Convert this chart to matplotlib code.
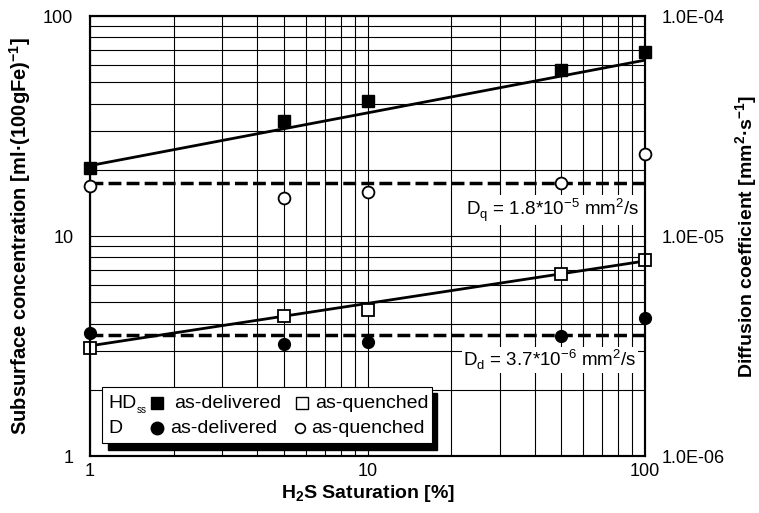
# -*- coding: utf-8 -*-
import numpy as np
import matplotlib
matplotlib.use('Agg')
import matplotlib.pyplot as plt
from matplotlib.patches import Rectangle
from matplotlib.ticker import FixedLocator, NullFormatter

plt.rcParams['font.family'] = ['Liberation Sans', 'DejaVu Sans']
plt.rcParams['mathtext.fontset'] = 'custom'
plt.rcParams['mathtext.rm'] = 'Liberation Sans'
plt.rcParams['mathtext.bf'] = 'Liberation Sans:bold'

# H2S saturation [%]
sat = [1, 5, 10, 50, 100]
# subsurface concentration HDss [ml/100gFe]
hd_delivered = [20.4, 33.3, 41.1, 56.6, 68.9]
hd_quenched = [3.1, 4.35, 4.6, 6.7, 7.8]
# diffusion coefficient D [mm2/s]
d_delivered = [3.63e-6, 3.22e-6, 3.31e-6, 3.52e-6, 4.23e-6]
d_quenched = [1.69e-5, 1.49e-5, 1.58e-5, 1.74e-5, 2.36e-5]
# trend lines (end points)
fit_x = [1, 100]
hd_delivered_fit = [20.9, 63.0]
hd_quenched_fit = [3.17, 7.7]
d_delivered_mean = 3.55e-6
d_quenched_mean = 1.74e-5

fig = plt.figure(figsize=(7.59, 5.13), dpi=100)
ax = fig.add_axes([0.1186, 0.111, 0.7312, 0.8578])
ax2 = ax.twinx()

ax.set_xscale('log')
ax.set_yscale('log')
ax.set_xlim(1, 100)
ax.set_ylim(1, 100)
ax2.set_yscale('log')
ax2.set_ylim(1e-6, 1e-4)

ax.grid(True, which='both', color='black', linewidth=0.8)
ax.set_axisbelow(True)

ax.plot(fit_x, hd_delivered_fit, color='black', lw=2)
ax.plot(fit_x, hd_quenched_fit, color='black', lw=2)
ax2.plot(fit_x, [d_quenched_mean] * 2, color='black', lw=2.5, dashes=(3.7, 1.5))
ax2.plot(fit_x, [d_delivered_mean] * 2, color='black', lw=2.5, dashes=(3.7, 1.5))

ax.plot(sat, hd_delivered, 's', ms=8.5, mfc='black', mec='black', clip_on=False, zorder=5)
ax.plot(sat, hd_quenched, 's', ms=8.5, mfc='white', mec='black', mew=1.3, clip_on=False, zorder=5)
ax2.plot(sat, d_delivered, 'o', ms=8.5, mfc='black', mec='black', clip_on=False, zorder=5)
ax2.plot(sat, d_quenched, 'o', ms=8.5, mfc='white', mec='black', mew=1.3, clip_on=False, zorder=5)

ax.text(0.834, 0.559, r'D$_\mathrm{q}$ = 1.8*10$^\mathrm{-5}$ mm$^\mathrm{2}$/s', transform=ax.transAxes,
        ha='center', va='center', fontsize=13.5, zorder=4,
        bbox=dict(facecolor='white', edgecolor='none', pad=1))
ax.text(0.829, 0.218, r'D$_\mathrm{d}$ = 3.7*10$^\mathrm{-6}$ mm$^\mathrm{2}$/s', transform=ax.transAxes,
        ha='center', va='center', fontsize=13.5, zorder=4,
        bbox=dict(facecolor='white', edgecolor='none', pad=1))

# legend box with black shadow
ax.add_patch(Rectangle((0.0324, 0.0136), 0.5928, 0.1295, transform=ax.transAxes,
                       facecolor='black', edgecolor='black', zorder=6, clip_on=False))
ax.add_patch(Rectangle((0.0216, 0.0295), 0.5946, 0.1273, transform=ax.transAxes,
                       facecolor='white', edgecolor='black', lw=0.8, zorder=7, clip_on=False))
r1, r2 = 0.1205, 0.0636
fs = 14
ax.text(0.0324, r1, 'HD', transform=ax.transAxes, va='center', fontsize=fs, zorder=8)
ax.text(0.0835, 0.104, 'ss', transform=ax.transAxes, va='center', fontsize=7, zorder=8)
ax.text(0.0324, r2, 'D', transform=ax.transAxes, va='center', fontsize=fs, zorder=8)
ax.plot([0.1198], [r1], 's', ms=8.5, mfc='black', mec='black', transform=ax.transAxes, zorder=8, clip_on=False)
ax.plot([0.382], [r1], 's', ms=8.5, mfc='white', mec='black', mew=1, transform=ax.transAxes, zorder=8, clip_on=False)
ax.plot([0.1198], [r2], 'o', ms=9, mfc='black', mec='black', transform=ax.transAxes, zorder=8, clip_on=False)
ax.plot([0.3784], [r2], 'o', ms=7, mfc='white', mec='black', mew=1.2, transform=ax.transAxes, zorder=8, clip_on=False)
ax.text(0.1514, r1, 'as-delivered', transform=ax.transAxes, va='center', fontsize=fs, zorder=8)
ax.text(0.4054, r1, 'as-quenched', transform=ax.transAxes, va='center', fontsize=fs, zorder=8)
ax.text(0.1441, r2, 'as-delivered', transform=ax.transAxes, va='center', fontsize=fs, zorder=8)
ax.text(0.3982, r2, 'as-quenched', transform=ax.transAxes, va='center', fontsize=fs, zorder=8)

ax.set_xticks([1, 10, 100])
ax.set_xticklabels(['1', '10', '100'])
ax.set_yticks([1, 10, 100])
ax.set_yticklabels(['1', '10', '100'])
ax.xaxis.set_minor_formatter(NullFormatter())
ax.yaxis.set_minor_formatter(NullFormatter())
ax.tick_params(axis='both', which='both', length=0, labelsize=13)
ax.tick_params(axis='y', pad=12)
ax.tick_params(axis='x', pad=5)

ax2.yaxis.set_major_locator(FixedLocator([1e-6, 1e-5, 1e-4]))
ax2.set_yticklabels(['1.0E-06', '1.0E-05', '1.0E-04'])
ax2.yaxis.set_minor_formatter(NullFormatter())
ax2.tick_params(axis='y', which='both', length=0, labelsize=13, pad=12)

for sp in ax.spines.values():
    sp.set_linewidth(1.5)
for sp in ax2.spines.values():
    sp.set_linewidth(1.5)

ax.set_xlabel(r'H$_\mathbf{2}$S Saturation [%]', fontsize=14, fontweight='bold')
ax.set_ylabel(r'Subsurface concentration [ml·(100gFe)$^{\mathbf{-1}}$]', fontsize=14.5, fontweight='bold')
ax2.set_ylabel(r'Diffusion coefficient [mm$^{\mathbf{2}}$·s$^{\mathbf{-1}}$]', fontsize=14,
               fontweight='bold', rotation=90)
ax.xaxis.set_label_coords(0.5, -0.062)
ax.yaxis.set_label_coords(-0.103, 0.5)
ax2.yaxis.set_label_coords(1.16, 0.5)

plt.savefig('out.png', dpi=100)
